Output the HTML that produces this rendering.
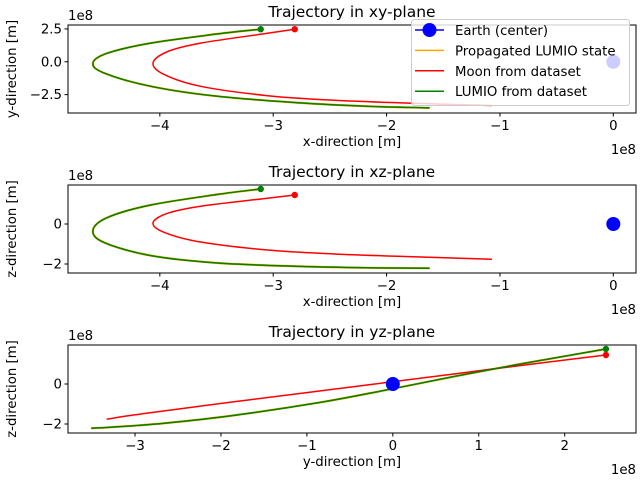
<!DOCTYPE html>
<html><head><meta charset="utf-8"><style>
body{margin:0;background:#fff}
svg{display:block;font-family:"DejaVu Sans","Liberation Sans",sans-serif}
</style></head><body>
<svg id="fig" width="640" height="480" viewBox="0 0 640 480" xmlns="http://www.w3.org/2000/svg"></svg>
<script>
// Data (units of 1e8 m)
const moonX = [-2.81,-3.05,-3.64,-3.93,-4.06,-3.96,-3.64,-3.05,-2.46,-1.87,-1.07];
const moonY = [2.48,2.17,1.42,0.78,-0.10,-0.98,-1.87,-2.58,-2.93,-3.13,-3.33];
const moonZ = [1.45,1.29,0.89,0.54,0.06,-0.42,-0.90,-1.30,-1.50,-1.62,-1.76];
const lumioX = [-3.11,-3.49,-4.08,-4.46,-4.59,-4.49,-4.08,-3.49,-2.76,-2.17,-1.62];
const lumioY = [2.48,2.12,1.42,0.66,-0.10,-0.86,-1.87,-2.63,-3.13,-3.39,-3.51];
const lumioZ = [1.75,1.48,0.95,0.33,-0.32,-0.93,-1.58,-1.95,-2.12,-2.19,-2.21];
const earthPos = [0,0,0];
const xTicks1 = [-4,-3,-2,-1,0];
const yTicks1 = [2.5,0.0,-2.5];
const zTicks = [0,-2];
const yTicks3 = [-3,-2,-1,0,1,2];

const NS="http://www.w3.org/2000/svg";
const svg=document.getElementById('fig');
function el(tag,attrs,parent){const e=document.createElementNS(NS,tag);for(const k in attrs)e.setAttribute(k,attrs[k]);(parent||svg).appendChild(e);return e;}
function txt(s,attrs,parent){const e=el('text',attrs,parent);e.textContent=s;return e;}
function smooth(P){let d='M'+P[0][0].toFixed(1)+','+P[0][1].toFixed(1);
  for(let i=0;i<P.length-1;i++){const p0=P[Math.max(i-1,0)],p1=P[i],p2=P[i+1],p3=P[Math.min(i+2,P.length-1)];
    const c1=[p1[0]+(p2[0]-p0[0])/6,p1[1]+(p2[1]-p0[1])/6],c2=[p2[0]-(p3[0]-p1[0])/6,p2[1]-(p3[1]-p1[1])/6];
    d+=' C'+c1.map(v=>v.toFixed(1)).join(',')+' '+c2.map(v=>v.toFixed(1)).join(',')+' '+p2[0].toFixed(1)+','+p2[1].toFixed(1);}
  return d;}

const panels=[
 {top:25,bot:113,xd:[-4.81,0.2],yd:[-3.9,2.8],xs:moonX,ys:moonY,lx:lumioX,ly:lumioY,xt:xTicks1,yt:yTicks1,fmt:v=>v.toFixed(1),
  title:'Trajectory in xy-plane',xl:'x-direction [m]',yl:'y-direction [m]',name:'xy'},
 {top:185,bot:273,xd:[-4.81,0.2],yd:[-2.45,1.95],xs:moonX,ys:moonZ,lx:lumioX,ly:lumioZ,xt:xTicks1,yt:zTicks,fmt:v=>String(v),
  title:'Trajectory in xz-plane',xl:'x-direction [m]',yl:'z-direction [m]',name:'xz'},
 {top:345,bot:433,xd:[-3.78,2.83],yd:[-2.45,1.95],xs:moonY,ys:moonZ,lx:lumioY,ly:lumioZ,xt:yTicks3,yt:zTicks,fmt:v=>String(v),
  title:'Trajectory in yz-plane',xl:'y-direction [m]',yl:'z-direction [m]',name:'yz'}
];
const L=68,R=636;
panels.forEach((p,i)=>{
  const g=el('g',{});
  
  
  const sx=v=>L+(v-p.xd[0])/(p.xd[1]-p.xd[0])*(R-L);
  const sy=v=>p.bot-(v-p.yd[0])/(p.yd[1]-p.yd[0])*(p.bot-p.top);
  const clipId='c'+i;
  const cp=el('clipPath',{id:clipId},g);el('rect',{x:L,y:p.top,width:R-L,height:p.bot-p.top},cp);
  const plot=el('g',{'clip-path':'url(#'+clipId+')'},g);
  const pts=(a,b)=>a.map((v,k)=>[sx(v),sy(b[k])]);
  const po=el('path',{d:smooth(pts(p.lx,p.ly)),fill:'none',stroke:'orange','stroke-width':2.2},plot);
  
  
  const pm=el('path',{d:smooth(pts(p.xs,p.ys)),fill:'none',stroke:'red','stroke-width':1.5},plot);
  
  
  const pl=el('path',{d:smooth(pts(p.lx,p.ly)),fill:'none',stroke:'green','stroke-width':1.5},plot);
  
  
  const dm=el('circle',{cx:sx(p.xs[0]),cy:sy(p.ys[0]),r:3.2,fill:'red'},plot);
  
  
  const dl=el('circle',{cx:sx(p.lx[0]),cy:sy(p.ly[0]),r:3.2,fill:'green'},plot);
  
  
  const ea=el('circle',{cx:sx(earthPos[0]),cy:sy(earthPos[1]),r:7,fill:'blue'},plot);
  
  
  el('rect',{x:L,y:p.top,width:R-L,height:p.bot-p.top,fill:'none',stroke:'#000','stroke-width':1},g);
  p.xt.forEach(t=>{const x=sx(t);el('line',{x1:x,x2:x,y1:p.bot,y2:p.bot+3.5,stroke:'#000'},g);
    const tl=txt((t<0?'\u2212':'')+Math.abs(t),{x:x,y:p.bot+17,'font-size':'13.3','text-anchor':'middle',fill:'#000'},g);
    
    });
  p.yt.forEach(t=>{const y=sy(t);el('line',{x1:L-3.5,x2:L,y1:y,y2:y,stroke:'#000'},g);
    const s=p.fmt(t);const tl=txt(s.replace('-','\u2212'),{x:L-6,y:y+4.5,'font-size':'13.3','text-anchor':'end',fill:'#000'},g);
    
    });
  const tt=txt(p.title,{x:(L+R)/2,y:p.top-8,'font-size':'15.5','text-anchor':'middle',fill:'#000'},g);
  
  
  const xl=txt(p.xl,{x:(L+R)/2,y:p.bot+33,'font-size':'13.3','text-anchor':'middle',fill:'#000'},g);
  
  
  const yl=txt(p.yl,{x:0,y:0,'font-size':'13.3','text-anchor':'middle',fill:'#000',transform:'translate(16,'+((p.top+p.bot)/2)+') rotate(-90)'},g);
  
  
  const o1=txt('1e8',{x:L,y:p.top-5,'font-size':'13.3',fill:'#000'},g);
  
  
  const o2=txt('1e8',{x:R,y:p.bot+41,'font-size':'13.3','text-anchor':'end',fill:'#000'},g);
  
  
});
// legend
const lg=el('g',{});


el('rect',{x:411.5,y:19.5,width:218,height:86,rx:3,fill:'#fff','fill-opacity':0.8,stroke:'#ccc'},lg);
const entries=[['Earth (center)','blue'],['Propagated LUMIO state','orange'],['Moon from dataset','red'],['LUMIO from dataset','green']];
entries.forEach((e,k)=>{const y=30+k*20.4;
  const ge=el('g',{},lg);
  
  
  el('line',{x1:415,x2:444,y1:y,y2:y,stroke:e[1],'stroke-width':1.5},ge);
  if(k===0)el('circle',{cx:429.5,cy:y,r:7,fill:'blue'},ge);
  txt(e[0],{x:455,y:y+5,'font-size':'13.3',fill:'#000'},ge);
});
</script>
</body></html>
